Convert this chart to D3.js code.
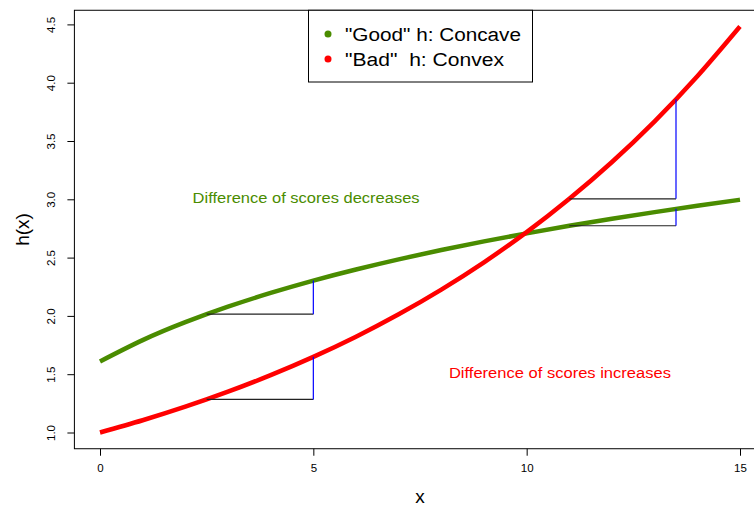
<!DOCTYPE html>
<html><head><meta charset="utf-8">
<script src="https://cdn.jsdelivr.net/npm/d3@7"></script>
<style>body{margin:0;background:#fff}svg{display:block}text{font-family:"Liberation Sans",Arial,Helvetica,sans-serif}</style>
</head><body><svg id="c" width="754" height="508"></svg>
<script>
// data
const xs = [0,1,2,3,4,5,6,7,8,9,10,11,12,13,14,15];
const goodH = [1.609,1.792,1.946,2.079,2.197,2.303,2.398,2.485,2.565,2.639,2.708,2.773,2.833,2.890,2.944,2.996];
const badH  = [1.000,1.105,1.221,1.350,1.492,1.649,1.822,2.014,2.226,2.460,2.718,3.004,3.320,3.669,4.055,4.482];
const xTicks = [0,5,10,15];
const yTicks = [1.0,1.5,2.0,2.5,3.0,3.5,4.0,4.5];
// step annotations: [x1, x2, h(x1), h(x2)]
const goodSteps = [[2.5,5,2.015,2.303],[11,13.5,2.773,2.918]];
const badSteps  = [[2.5,5,1.284,1.649],[11,13.5,3.004,3.857]];
const legendLabels = ['"Good" h: Concave','"Bad"\u00a0\u00a0h: Convex'];
const colors = {good:"#4a8c00", bad:"#ff0000"};
const notes = [{x:4.83,y:3.0,t:"Difference of scores decreases",c:"good",w:227},{x:10.78,y:1.5,t:"Difference of scores increases",c:"bad",w:222}];

const svg = d3.select("#c");
const xlo=-0.6, xhi=15.6, ylo=1-0.1392, yhi=4.482+0.1392;
const x = d3.scaleLinear().domain([0,15]).range([100,740]);
const y = d3.scaleLinear().domain([1,4.5]).range([432.5,24.4]);

// box
svg.append("rect").attr("x",x(xlo)).attr("y",y(yhi)).attr("width",x(xhi)-x(xlo)).attr("height",y(ylo)-y(yhi))
  .attr("fill","none").attr("stroke","#000").attr("stroke-width",1);

// axes
const xa = svg.append("g").attr("transform",`translate(0,${y(ylo)})`)
  .call(d3.axisBottom(x).tickValues(xTicks).tickFormat(d3.format("d")).tickSize(7).tickPadding(8));
xa.select(".domain").remove();
xa.selectAll("text").attr("font-size",11.5).attr("fill","#000").attr("font-family","Liberation Sans, Arial, sans-serif");
const ya = svg.append("g").attr("transform",`translate(${x(xlo)},0)`)
  .call(d3.axisLeft(y).tickValues(yTicks).tickFormat(d3.format(".1f")).tickSize(7));
ya.select(".domain").remove();
ya.selectAll("text").remove();
ya.selectAll(".tick").append("text").attr("transform","translate(-19,0) rotate(-90)")
  .attr("text-anchor","middle").attr("font-size",11.5).attr("fill","#000").attr("font-family","Liberation Sans, Arial, sans-serif")
  .text(d=>d3.format(".1f")(d));

svg.append("text").attr("x",(x(xlo)+x(xhi))/2).attr("y",503).attr("text-anchor","middle").attr("font-size",19).text("x");
svg.append("text").attr("transform",`translate(29,${(y(ylo)+y(yhi))/2}) rotate(-90)`).attr("text-anchor","middle").attr("font-size",19).text("h(x)");

// curves
const line = d3.line().x(d=>x(d[0])).y(d=>y(d[1])).curve(d3.curveNatural);
svg.append("path").datum(xs.map((v,i)=>[v,goodH[i]])).attr("d",line).attr("fill","none").attr("stroke",colors.good).attr("stroke-width",4.5);
svg.append("path").datum(xs.map((v,i)=>[v,badH[i]])).attr("d",line).attr("fill","none").attr("stroke",colors.bad).attr("stroke-width",4.5);

// steps
[...goodSteps,...badSteps].forEach(s=>{
  svg.append("line").attr("x1",x(s[0])).attr("x2",x(s[1])).attr("y1",y(s[2])).attr("y2",y(s[2])).attr("stroke","#222").attr("stroke-width",1.2);
  svg.append("line").attr("x1",x(s[1])).attr("x2",x(s[1])).attr("y1",y(s[2])).attr("y2",y(s[3])).attr("stroke","#0000ff").attr("stroke-width",1.2);
});

// notes
notes.forEach(n=>svg.append("text").attr("x",x(n.x)-n.w/2).attr("y",y(n.y)+3.5).attr("font-size",15.5)
  .attr("textLength",n.w).attr("lengthAdjust","spacingAndGlyphs").attr("fill",colors[n.c]).text(n.t));

// legend
const lg = svg.append("g");
lg.append("rect").attr("x",308.5).attr("y",y(yhi)).attr("width",224).attr("height",82-y(yhi)).attr("fill","#fff").attr("stroke","#000");
const lw = [176, 159];
["good","bad"].forEach((k,i)=>{
  lg.append("circle").attr("cx",328).attr("cy",34+25*i).attr("r",3.5).attr("fill",colors[k]);
  lg.append("text").attr("x",345).attr("y",40.5+25*i).attr("font-size",18)
    .attr("textLength",lw[i]).attr("lengthAdjust","spacingAndGlyphs").text(legendLabels[i]);
});
</script></body></html>
